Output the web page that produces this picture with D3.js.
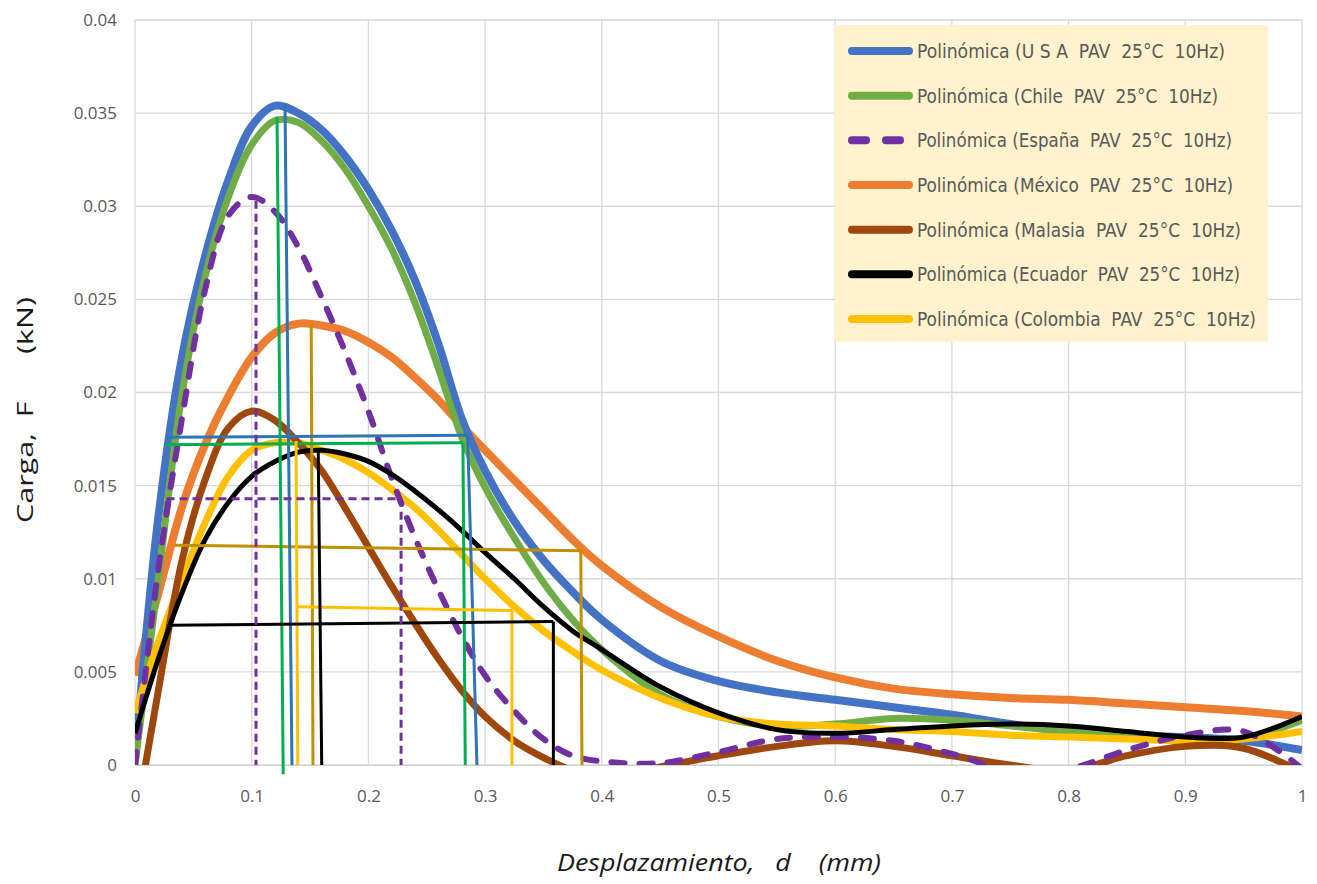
<!DOCTYPE html>
<html>
<head>
<meta charset="utf-8">
<script src="https://cdn.jsdelivr.net/npm/d3@7"></script>
<style>
  body { margin: 0; background: #ffffff; }
  svg { display: block; }
  text { white-space: pre; }
</style>
</head>
<body>
<svg id="chart" width="1317" height="884"></svg>
<script>
// ---------- DATA ----------
const X = [0,0.02,0.04,0.06,0.08,0.1,0.12,0.14,0.16,0.18,0.2,0.22,0.24,0.26,0.28,0.3,0.325,0.35,0.375,0.4,0.45,0.5,0.55,0.6,0.65,0.7,0.75,0.8,0.85,0.9,0.95,1.0];

const usa      = [0.0003,0.0133,0.0218,0.0273,0.0314,0.0343,0.0354,0.0350,0.0341,0.0327,0.0309,0.0287,0.0260,0.0226,0.0186,0.0158,0.0131,0.0110,0.0093,0.0078,0.0056,0.0045,0.0039,0.0035,0.0031,0.0027,0.0022,0.0018,0.0016,0.0015,0.0013,0.0008];
const chile    = [0.0000,0.0100,0.0198,0.0262,0.0305,0.0333,0.0346,0.0345,0.0335,0.0320,0.0300,0.0277,0.0248,0.0213,0.0176,0.0149,0.0122,0.0098,0.0078,0.0062,0.0038,0.0026,0.0021,0.0022,0.0025,0.0024,0.0021,0.0018,0.0015,0.0013,0.0014,0.0024];
const espana   = [0.0000,0.0105,0.0185,0.0255,0.0295,0.0305,0.0297,0.0278,0.0251,0.0222,0.0190,0.0154,0.0122,0.0094,0.0069,0.0048,0.0029,0.0014,0.0005,0.0002,0.0001,0.0007,0.0014,0.0015,0.0013,0.0006,-0.0003,-0.0002,0.0008,0.0016,0.0018,-0.0002];
const mexico   = [0.0048,0.0092,0.0138,0.0172,0.0198,0.0219,0.0232,0.0237,0.0236,0.0233,0.0227,0.0219,0.0208,0.0196,0.0182,0.0169,0.0153,0.0137,0.0121,0.0107,0.0085,0.0069,0.0056,0.0047,0.0041,0.0038,0.0036,0.0035,0.0033,0.0031,0.0029,0.0026];
const malasia  = [-0.0033,0.0040,0.0109,0.0153,0.0181,0.0190,0.0185,0.0173,0.0158,0.0138,0.0117,0.0096,0.0076,0.0057,0.0040,0.0026,0.0013,0.0004,-0.0003,-0.0007,-0.0001,0.0005,0.0010,0.0013,0.0010,0.0005,0.0000,-0.0003,0.0005,0.0010,0.0009,-0.0004];
const ecuador  = [0.0017,0.0057,0.0092,0.0121,0.0141,0.0155,0.0163,0.0168,0.0169,0.0167,0.0163,0.0156,0.0147,0.0137,0.0126,0.0114,0.0100,0.0085,0.0072,0.0062,0.0042,0.0028,0.0019,0.0017,0.0019,0.0021,0.0022,0.0021,0.0018,0.0015,0.0015,0.0026];
const colombia = [0.0028,0.0066,0.0099,0.0130,0.0155,0.0169,0.0173,0.0173,0.0169,0.0164,0.0157,0.0148,0.0138,0.0126,0.0113,0.0100,0.0085,0.0072,0.0061,0.0051,0.0036,0.0026,0.0022,0.0021,0.0019,0.0018,0.0016,0.0015,0.0014,0.0013,0.0014,0.0018];

// guide lines (peak / half-peak construction), in data units
const guideUSA      = [[[0.1285,0.0355],[0.1345,0.0]], [[0.027,0.0176],[0.285,0.0177]], [[0.285,0.0177],[0.293,0.0]]];
const guideChile    = [[[0.1217,0.0348],[0.127,-0.0005]], [[0.026,0.0172],[0.281,0.0173]], [[0.281,0.0173],[0.283,0.0]]];
const guideEspana   = [[[0.1037,0.0303],[0.1037,0.0]], [[0.027,0.0143],[0.228,0.0143]], [[0.228,0.0143],[0.228,0.0]]];
const guideMexico   = [[[0.151,0.0237],[0.1525,0.0]], [[0.034,0.0118],[0.383,0.0115]], [[0.382,0.0115],[0.383,0.0]]];
const guideColombia = [[[0.138,0.0174],[0.1395,0.0]], [[0.139,0.0085],[0.323,0.0083]], [[0.323,0.0083],[0.323,0.0]]];
const guideEcuador  = [[[0.157,0.0169],[0.16,0.0]], [[0.03,0.0075],[0.3585,0.0077]], [[0.3585,0.0077],[0.3585,0.0]]];

const legendLabels = [
  "Polinómica (U S A  PAV  25°C  10Hz)",
  "Polinómica (Chile  PAV  25°C  10Hz)",
  "Polinómica (España  PAV  25°C  10Hz)",
  "Polinómica (México  PAV  25°C  10Hz)",
  "Polinómica (Malasia  PAV  25°C  10Hz)",
  "Polinómica (Ecuador  PAV  25°C  10Hz)",
  "Polinómica (Colombia  PAV  25°C  10Hz)"
];
const xTicks = [0,0.1,0.2,0.3,0.4,0.5,0.6,0.7,0.8,0.9,1];
const yTicks = [0,0.005,0.01,0.015,0.02,0.025,0.03,0.035,0.04];
const xTitle = "Desplazamiento,   d    (mm)";
const yTitle = "Carga,  F      (kN)";

// ---------- STYLE ----------
const series = [
  {key:"usa",      vals:usa,      color:"#4472C4", w:8, dash:null},
  {key:"chile",    vals:chile,    color:"#70AD47", w:7, dash:null},
  {key:"espana",   vals:espana,   color:"#7030A0", w:6, dash:"13,15"},
  {key:"mexico",   vals:mexico,   color:"#ED7D31", w:8, dash:null},
  {key:"malasia",  vals:malasia,  color:"#9E480E", w:7, dash:null},
  {key:"ecuador",  vals:ecuador,  color:"#000000", w:5, dash:null},
  {key:"colombia", vals:colombia, color:"#FFC000", w:7, dash:null}
];
const drawOrder = ["mexico","usa","chile","colombia","malasia","espana","ecuador"];
const guides = [
  {segs:guideMexico,   color:"#BF9000", dash:null},
  {segs:guideUSA,      color:"#2E75B6", dash:null},
  {segs:guideChile,    color:"#00B050", dash:null},
  {segs:guideColombia, color:"#FFC000", dash:null},
  {segs:guideEcuador,  color:"#000000", dash:null},
  {segs:guideEspana,   color:"#7030A0", dash:"8,5"}
];

const L = 135, R = 1302, T = 20, B = 765;
const svg = d3.select("#chart");
const x = d3.scaleLinear().domain([0,1]).range([L,R]);
const y = d3.scaleLinear().domain([0,0.04]).range([B,T]);

svg.append("defs").append("clipPath").attr("id","plotclip")
  .append("rect").attr("x",L).attr("y",T).attr("width",R-L).attr("height",B-T);

// gridlines
const grid = svg.append("g");
grid.selectAll("line.v").data(xTicks).enter().append("line")
  .attr("x1",d=>x(d)).attr("x2",d=>x(d)).attr("y1",T).attr("y2",B)
  .attr("stroke","#D9D9D9").attr("stroke-width",1.3);
grid.selectAll("line.h").data(yTicks).enter().append("line")
  .attr("x1",L).attr("x2",R).attr("y1",d=>y(d)).attr("y2",d=>y(d))
  .attr("stroke","#D9D9D9").attr("stroke-width",1.3);

// axes labels via d3 axes
const fontTick = "'Open Sans', sans-serif";
const xAxis = svg.append("g").attr("transform",`translate(0,${B})`)
  .call(d3.axisBottom(x).tickValues(xTicks).tickSize(0).tickPadding(25).tickFormat(d3.format("~g")));
xAxis.select(".domain").attr("stroke","#D0D0D0");
xAxis.selectAll("text").attr("font-family",fontTick).attr("font-size",17).attr("fill","#595959");
const yAxis = svg.append("g").attr("transform",`translate(${L},0)`)
  .call(d3.axisLeft(y).tickValues(yTicks).tickSize(0).tickPadding(18).tickFormat(d3.format("~g")));
yAxis.select(".domain").remove();
yAxis.selectAll("text").attr("font-family",fontTick).attr("font-size",17).attr("fill","#595959");

// curves
const line = d3.line().x(d=>x(d[0])).y(d=>y(d[1])).curve(d3.curveCatmullRom.alpha(0.5));
const curves = svg.append("g").attr("clip-path","url(#plotclip)");
drawOrder.forEach(k => {
  const s = series.find(o=>o.key===k);
  const pts = X.map((xv,i)=>[xv, s.vals[i]]);
  curves.append("path").attr("d", line(pts))
    .attr("fill","none").attr("stroke",s.color).attr("stroke-width",s.w)
    .attr("stroke-linecap", s.dash ? "round" : "butt")
    .attr("stroke-linejoin","round")
    .attr("stroke-dasharray", s.dash);
});

// guide lines
const gl = d3.line().x(d=>x(d[0])).y(d=>y(d[1]));
const gg = svg.append("g");
guides.forEach(g => {
  g.segs.forEach(seg => {
    gg.append("path").attr("d", gl(seg)).attr("fill","none")
      .attr("stroke", g.color).attr("stroke-width", 3)
      .attr("stroke-dasharray", g.dash);
  });
});

// legend
const legX = 835, legY = 25, legW = 433, legH = 317;
const leg = svg.append("g");
leg.append("rect").attr("x",legX).attr("y",legY).attr("width",legW).attr("height",legH).attr("fill","#FFF2CC");
const rowY = d3.scaleLinear().domain([0,6]).range([51,319]);
const textEnds = [1225,1218,1232,1233,1241,1240,1256];
series.forEach((s,i) => {
  leg.append("line").attr("x1",852).attr("x2", s.dash ? 900 : 909).attr("y1",rowY(i)).attr("y2",rowY(i))
    .attr("stroke",s.color).attr("stroke-width",8).attr("stroke-linecap","round")
    .attr("stroke-dasharray", s.dash ? "14,20" : null);
  leg.append("text").attr("x",917).attr("y",rowY(i)).attr("dy","0.35em")
    .attr("font-family","'Liberation Sans Narrow','DejaVu Sans Condensed',sans-serif")
    .attr("font-size",20).attr("fill","#595959")
    .attr("textLength", textEnds[i]-917).attr("lengthAdjust","spacingAndGlyphs")
    .text(legendLabels[i]);
});

// axis titles
svg.append("text").attr("x",719).attr("y",871).attr("text-anchor","middle")
  .attr("font-family","'Open Sans', sans-serif").attr("font-style","italic")
  .attr("font-size",23).attr("fill","#1a1a1a")
  .attr("textLength",324).attr("lengthAdjust","spacingAndGlyphs")
  .text(xTitle);
svg.append("text").attr("transform","translate(33,410) rotate(-90)").attr("text-anchor","middle")
  .attr("font-family","'Open Sans', sans-serif")
  .attr("font-size",21).attr("fill","#1a1a1a")
  .attr("textLength",226).attr("lengthAdjust","spacingAndGlyphs")
  .text(yTitle);
</script>
</body>
</html>
